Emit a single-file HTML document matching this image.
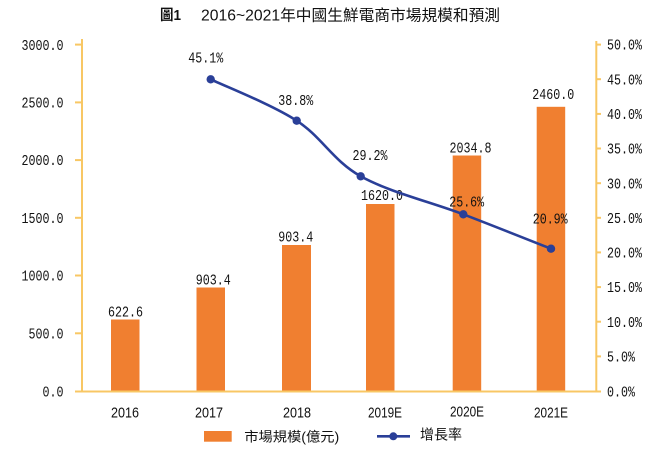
<!DOCTYPE html>
<html><head><meta charset="utf-8"><style>
html,body{margin:0;padding:0;background:#fff;}
svg{display:block;}
.m{font-family:"Liberation Mono",monospace;font-size:15px;fill:#111;}
.s{font-family:"Liberation Sans",sans-serif;font-size:15px;fill:#111;}
.c{font-family:"Liberation Sans","Noto Sans CJK TC",sans-serif;fill:#111;}
</style></head><body>
<svg width="664" height="454" viewBox="0 0 664 454" xmlns="http://www.w3.org/2000/svg">
<rect width="664" height="454" fill="#fff"/>
<!-- title -->
<text x="160" y="20" class="c" font-size="14.5" font-weight="bold" textLength="21" lengthAdjust="spacingAndGlyphs">圖1</text>
<text x="201" y="20.5" class="c" font-size="15.5" textLength="299" lengthAdjust="spacingAndGlyphs">2016~2021年中國生鮮電商市場規模和預測</text>

<!-- bars -->
<g fill="#F07F30">
<rect x="111" y="319.5" width="28.5" height="72"/>
<rect x="196.5" y="287.5" width="28.5" height="104"/>
<rect x="282" y="245" width="29" height="146.5"/>
<rect x="366" y="204" width="28.5" height="187.5"/>
<rect x="452.7" y="155.5" width="28.5" height="236"/>
<rect x="536.7" y="106.8" width="28.5" height="284.7"/>
</g>

<!-- axes -->
<g stroke="#F8C764" stroke-width="2" fill="none">
<line x1="82" y1="39" x2="82" y2="392.5"/>
<line x1="596.3" y1="41" x2="596.3" y2="392.5"/>
<line x1="81" y1="391.5" x2="597" y2="391.5"/>
<line x1="75" y1="391.5" x2="82" y2="391.5"/>
<line x1="75" y1="333.3" x2="82" y2="333.3"/>
<line x1="75" y1="275.5" x2="82" y2="275.5"/>
<line x1="75" y1="217.8" x2="82" y2="217.8"/>
<line x1="75" y1="160.1" x2="82" y2="160.1"/>
<line x1="75" y1="102.4" x2="82" y2="102.4"/>
<line x1="75" y1="44.6" x2="82" y2="44.6"/>
<line x1="596" y1="391.5" x2="601" y2="391.5"/>
<line x1="596" y1="356.4" x2="601" y2="356.4"/>
<line x1="596" y1="321.7" x2="601" y2="321.7"/>
<line x1="596" y1="287.1" x2="601" y2="287.1"/>
<line x1="596" y1="252.4" x2="601" y2="252.4"/>
<line x1="596" y1="217.8" x2="601" y2="217.8"/>
<line x1="596" y1="183.2" x2="601" y2="183.2"/>
<line x1="596" y1="148.5" x2="601" y2="148.5"/>
<line x1="596" y1="113.9" x2="601" y2="113.9"/>
<line x1="596" y1="79.2" x2="601" y2="79.2"/>
<line x1="596" y1="44.6" x2="601" y2="44.6"/>
</g>

<!-- left axis labels -->
<g class="m" text-anchor="end">
<text x="63.5" y="396.5" textLength="21" lengthAdjust="spacingAndGlyphs">0.0</text>
<text x="63.5" y="338.5" textLength="35" lengthAdjust="spacingAndGlyphs">500.0</text>
<text x="63.5" y="280.5" textLength="42" lengthAdjust="spacingAndGlyphs">1000.0</text>
<text x="63.5" y="223" textLength="42" lengthAdjust="spacingAndGlyphs">1500.0</text>
<text x="63.5" y="165.2" textLength="42" lengthAdjust="spacingAndGlyphs">2000.0</text>
<text x="63.5" y="107.5" textLength="42" lengthAdjust="spacingAndGlyphs">2500.0</text>
<text x="63.5" y="50" textLength="42" lengthAdjust="spacingAndGlyphs">3000.0</text>
</g>

<!-- right axis labels -->
<g class="m">
<text x="607" y="396.5" textLength="28" lengthAdjust="spacingAndGlyphs">0.0%</text>
<text x="607" y="361.5" textLength="28" lengthAdjust="spacingAndGlyphs">5.0%</text>
<text x="607" y="327" textLength="35" lengthAdjust="spacingAndGlyphs">10.0%</text>
<text x="607" y="292.2" textLength="35" lengthAdjust="spacingAndGlyphs">15.0%</text>
<text x="607" y="257.5" textLength="35" lengthAdjust="spacingAndGlyphs">20.0%</text>
<text x="607" y="223" textLength="35" lengthAdjust="spacingAndGlyphs">25.0%</text>
<text x="607" y="188.3" textLength="35" lengthAdjust="spacingAndGlyphs">30.0%</text>
<text x="607" y="153.6" textLength="35" lengthAdjust="spacingAndGlyphs">35.0%</text>
<text x="607" y="119" textLength="35" lengthAdjust="spacingAndGlyphs">40.0%</text>
<text x="607" y="84.3" textLength="35" lengthAdjust="spacingAndGlyphs">45.0%</text>
<text x="607" y="49.7" textLength="35" lengthAdjust="spacingAndGlyphs">50.0%</text>
</g>

<!-- x labels -->
<g class="s" text-anchor="middle">
<text x="125" y="417.5" textLength="28" lengthAdjust="spacingAndGlyphs">2016</text>
<text x="209" y="417.5" textLength="28" lengthAdjust="spacingAndGlyphs">2017</text>
<text x="297" y="417.5" textLength="28" lengthAdjust="spacingAndGlyphs">2018</text>
<text x="385" y="417.5" textLength="34" lengthAdjust="spacingAndGlyphs">2019E</text>
<text x="467" y="416.5" textLength="34" lengthAdjust="spacingAndGlyphs">2020E</text>
<text x="551" y="417.5" textLength="34" lengthAdjust="spacingAndGlyphs">2021E</text>
</g>

<!-- bar value labels -->
<g class="m" text-anchor="middle">
<text x="125.5" y="316.7" textLength="35" lengthAdjust="spacingAndGlyphs">622.6</text>
<text x="213.3" y="284.3" textLength="35" lengthAdjust="spacingAndGlyphs">903.4</text>
<text x="295.8" y="241.7" textLength="35" lengthAdjust="spacingAndGlyphs">903.4</text>
<text x="382" y="200" textLength="42" lengthAdjust="spacingAndGlyphs">1620.0</text>
<text x="470.5" y="152.3" textLength="42" lengthAdjust="spacingAndGlyphs">2034.8</text>
<text x="553.3" y="99" textLength="42" lengthAdjust="spacingAndGlyphs">2460.0</text>
</g>

<!-- line -->
<path d="M210.7,79.3 C225.0,86.2 271.7,104.5 296.7,120.7 C321.7,136.9 332.9,160.7 360.7,176.3 C388.5,191.9 431.6,202.2 463.3,214.3 C495.0,226.4 536.4,243.0 551,248.7" fill="none" stroke="#2A3F98" stroke-width="2.6"/>
<g fill="#2A3F98">
<circle cx="210.7" cy="79.3" r="4.2"/>
<circle cx="296.7" cy="120.7" r="4.2"/>
<circle cx="360.7" cy="176.3" r="4.2"/>
<circle cx="463.3" cy="214.3" r="4.2"/>
<circle cx="551" cy="248.7" r="4.2"/>
</g>

<!-- line labels -->
<g class="m" text-anchor="middle">
<text x="205.8" y="62.3" textLength="35" lengthAdjust="spacingAndGlyphs">45.1%</text>
<text x="295.8" y="105" textLength="35" lengthAdjust="spacingAndGlyphs">38.8%</text>
<text x="370" y="160" textLength="35" lengthAdjust="spacingAndGlyphs">29.2%</text>
<text x="466.7" y="206.7" textLength="35" lengthAdjust="spacingAndGlyphs">25.6%</text>
<text x="550.2" y="223.3" textLength="35" lengthAdjust="spacingAndGlyphs">20.9%</text>
</g>

<!-- legend -->
<rect x="204" y="431" width="27.7" height="10.7" fill="#F07F30"/>
<text x="244.3" y="441.5" class="c" font-size="13.5" textLength="95" lengthAdjust="spacingAndGlyphs">市場規模(億元)</text>
<line x1="377" y1="436.3" x2="410" y2="436.3" stroke="#2A3F98" stroke-width="2.6"/>
<circle cx="393.3" cy="436.3" r="4" fill="#2A3F98"/>
<text x="420" y="439.5" class="c" font-size="14" textLength="42" lengthAdjust="spacingAndGlyphs">增長率</text>
</svg>
</body></html>
